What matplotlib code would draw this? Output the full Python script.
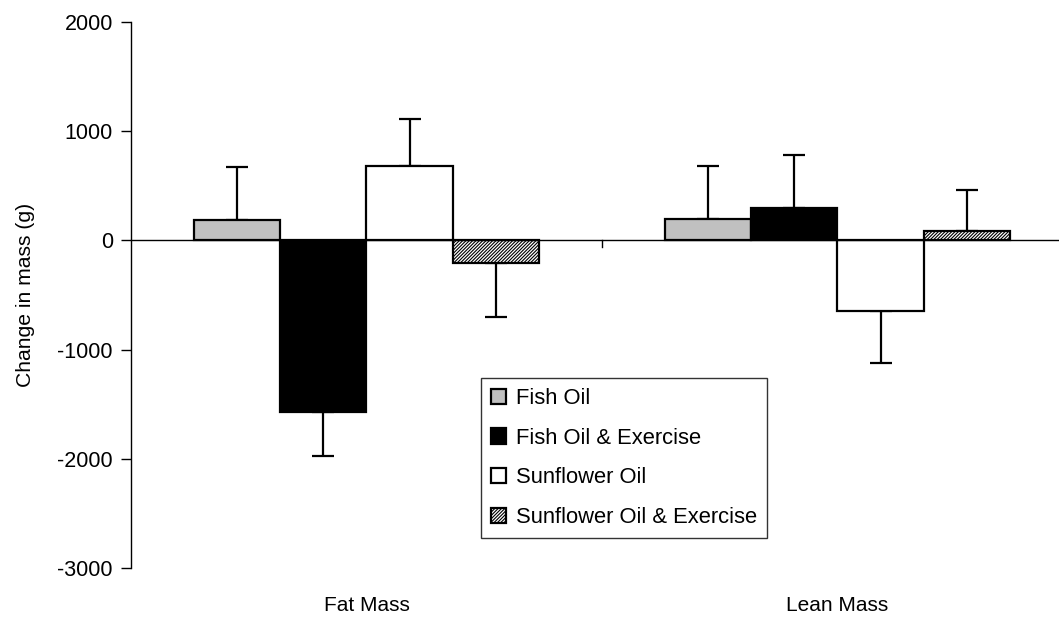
import numpy as np
import matplotlib.pyplot as plt

plt.rcParams['font.family'] = ['Liberation Sans', 'DejaVu Sans']
plt.rcParams['hatch.linewidth'] = 0.8
plt.rcParams['axes.unicode_minus'] = False

# data
groups = ["Fat Mass", "Lean Mass"]
series = ["Fish Oil", "Fish Oil & Exercise", "Sunflower Oil", "Sunflower Oil & Exercise"]
fish_oil = [190, 200]
fish_oil_ex = [-1570, 300]
sunflower = [680, -650]
sunflower_ex = [-210, 90]
fish_oil_err = [480, 480]
fish_oil_ex_err = [400, 480]
sunflower_err = [430, 470]
sunflower_ex_err = [490, 370]

means = [fish_oil, fish_oil_ex, sunflower, sunflower_ex]
errs = [fish_oil_err, fish_oil_ex_err, sunflower_err, sunflower_ex_err]
faces = ["#c0c0c0", "black", "white", "white"]
hatches = [None, None, None, "//////////"]

fig = plt.figure(figsize=(10.59, 6.21), dpi=100)
ax = fig.add_axes([0.1237, 0.0853, 0.8895, 0.8793])

x = np.arange(len(groups))
w = 0.183
for i in range(4):
    pos = x + (i - 1.5) * w
    m = np.array(means[i])
    e = np.array(errs[i])
    ax.bar(pos, m, width=w, color=faces[i], edgecolor="black", linewidth=1.6,
           hatch=hatches[i], label=series[i], zorder=3)
    # one-sided error bars, away from zero
    lower = np.where(m < 0, e, 0)
    upper = np.where(m >= 0, e, 0)
    ax.errorbar(pos, m, yerr=[lower, upper], fmt="none", ecolor="black",
                elinewidth=1.6, capsize=8, capthick=1.6, zorder=2)

ax.axhline(0, color="black", linewidth=1, zorder=4)
mid = (x[0] + x[1]) / 2
ax.plot([mid, mid], [0, -60], color="black", linewidth=1, zorder=4)

ax.set_xlim(-0.5, 1.5)
ax.set_ylim(-3000, 2000)
ax.set_yticks(np.arange(-3000, 2001, 1000))
ax.set_xticks(x)
ax.set_xticklabels(groups, fontsize=15)
ax.tick_params(axis="x", length=0, pad=20)
ax.tick_params(axis="y", direction="out", length=7, width=1, labelsize=15.5, pad=6)
ax.set_ylabel("Change in mass (g)", fontsize=15.2, labelpad=16)

for s in ["top", "right", "bottom"]:
    ax.spines[s].set_visible(False)
ax.spines["left"].set_linewidth(1)

leg = ax.legend(loc="lower left", bbox_to_anchor=(0.3716, 0.055), fontsize=15.8,
                frameon=True, fancybox=False, edgecolor="black",
                handlelength=0.7, handleheight=0.7, handletextpad=0.45,
                labelspacing=0.85, borderpad=0.45, borderaxespad=0)
leg.get_frame().set_linewidth(1)

fig.savefig("out.png", dpi=100)
